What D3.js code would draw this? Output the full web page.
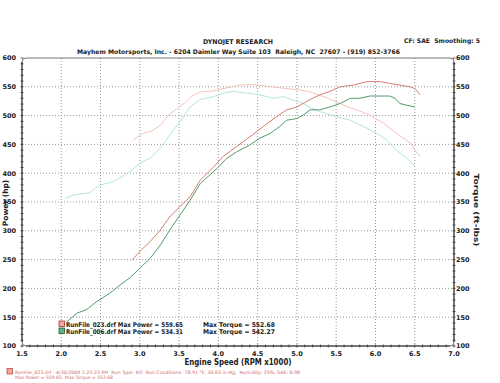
<!DOCTYPE html>
<html>
  <head>
    <meta charset="utf-8">
    <script src="https://d3js.org/d3.v7.min.js"></script>
    <style>
      body { margin: 0; background: #fff; }
      svg { display: block; font-family: "DejaVu Sans", Verdana, sans-serif; }
      text { white-space: pre; }
      .lbl { font-weight: bold; fill: #222; }
      .grid line { stroke: #999; stroke-width: 1; stroke-dasharray: 1,2; }
    </style>
  </head>
  <body>
    <div id="chart"></div>
    <script>
      // run 023 (red) and run 006 (green), rpm x1000
      var rpm023 = [2.9,3.02,3.13,3.26,3.38,3.51,3.64,3.77,3.94,4.06,4.23,4.4,4.57,4.74,4.87,5.0,5.17,5.29,5.42,5.55,5.72,5.89,6.06,6.18,6.31,6.44,6.5,6.57]
      var power023 = [249,267,281,301,324,342,359,388,411,429,446,463,481,498,510,515,528,536,542,550,553,559,559,556,553,550,547,536]
      var rpm023t = [2.92,3.04,3.15,3.26,3.36,3.47,3.58,3.66,3.77,3.94,4.1,4.27,4.45,4.62,4.8,5.0,5.15,5.4,5.65,5.9,6.1,6.27,6.45,6.52,6.57]
      var torque023 = [458,469,473,483,500,512,523,534,541,543,548,553,554,551,548,545,542,530,515,503,487,469,452,437,429]

      var rpm006 = [2.07,2.2,2.32,2.45,2.62,2.75,2.87,3.0,3.13,3.26,3.38,3.51,3.64,3.77,3.98,4.11,4.23,4.4,4.53,4.66,4.78,4.87,5.0,5.08,5.17,5.29,5.42,5.55,5.68,5.8,5.93,6.06,6.18,6.25,6.31,6.4,6.5]
      var power006 = [142,157,163,177,192,206,218,235,252,275,301,327,353,382,408,426,437,449,461,469,481,492,495,501,510,510,515,521,530,530,534,534,534,530,521,518,515]
      var rpm006t = [2.05,2.15,2.24,2.37,2.43,2.51,2.66,2.81,2.9,3.0,3.13,3.26,3.38,3.51,3.64,3.77,3.94,4.06,4.19,4.36,4.53,4.7,4.83,4.95,5.08,5.17,5.29,5.51,5.68,5.85,6.02,6.14,6.27,6.4,6.5]
      var torque006 = [356,362,364,366,374,380,385,397,406,417,426,443,466,489,515,528,533,539,542,539,536,530,533,527,521,514,507,498,492,481,469,458,440,426,413]

      var xTicks = [1.5,2.0,2.5,3.0,3.5,4.0,4.5,5.0,5.5,6.0,6.5,7.0]
      var yTicks = [100,150,200,250,300,350,400,450,500,550,600]
      var legendRows = ["RunFile_023.drf Max Power = 559.65", "RunFile_006.drf Max Power = 534.31"]
      var legendTorque = ["Max Torque = 552.68", "Max Torque = 542.27"]

      var W = 500, H = 383
      var L = 22, R = 454, T = 58, B = 346

      var svg = d3.select("#chart").append("svg").attr("width", W).attr("height", H)

      var x = d3.scaleLinear().domain([1.5,7.0]).range([L,R])
      var y = d3.scaleLinear().domain([100,600]).range([B,T])

      // grid
      var grid = svg.append("g").attr("class","grid")
      grid.selectAll(".gx").data(xTicks.slice(1,-1)).enter().append("line")
        .attr("x1", d => x(d)).attr("x2", d => x(d)).attr("y1", T).attr("y2", B)
      grid.selectAll(".gy").data(yTicks.slice(1,-1)).enter().append("line")
        .attr("x1", L).attr("x2", R).attr("y1", d => y(d)).attr("y2", d => y(d))

      // frame
      svg.append("rect").attr("x", L).attr("y", T).attr("width", R-L).attr("height", B-T)
        .attr("rx", 4).attr("fill","none").attr("stroke","#666").attr("stroke-width",0.9)
      svg.append("line").attr("x1",L).attr("x2",L).attr("y1",T+4).attr("y2",B-4).attr("stroke","#333")
      svg.append("line").attr("x1",R).attr("x2",R).attr("y1",T+4).attr("y2",B-4).attr("stroke","#333")
      svg.append("line").attr("x1",L+4).attr("x2",R-4).attr("y1",B).attr("y2",B).attr("stroke","#333")

      // minor ticks
      var yMinor = d3.range(100, 601, 10)
      var xMinor = d3.range(15, 71, 1).map(d => d/10)
      var tk = svg.append("g").attr("stroke","#333").attr("stroke-width",0.8)
      tk.selectAll(".tl").data(yMinor).enter().append("line")
        .attr("x1", L-1.5).attr("x2", L+1.5).attr("y1", d => y(d)).attr("y2", d => y(d))
      tk.selectAll(".tr").data(yMinor).enter().append("line")
        .attr("x1", R-1.5).attr("x2", R+1.5).attr("y1", d => y(d)).attr("y2", d => y(d))
      tk.selectAll(".tb").data(xMinor).enter().append("line")
        .attr("x1", d => x(d)).attr("x2", d => x(d)).attr("y1", B-1.5).attr("y2", B+1.5)

      // tick labels
      svg.selectAll(".yl").data(yTicks).enter().append("text").attr("class","lbl")
        .attr("x", 16).attr("y", d => y(d)+2.3).attr("text-anchor","end")
        .attr("font-size", 6.5).text(d => d)
      svg.selectAll(".yr").data(yTicks).enter().append("text").attr("class","lbl")
        .attr("x", 456).attr("y", d => y(d)+2.3)
        .attr("font-size", 6.5).text(d => d)
      svg.selectAll(".xl").data(xTicks).enter().append("text").attr("class","lbl")
        .attr("x", d => x(d)).attr("y", 355.5).attr("text-anchor","middle")
        .attr("font-size", 6.5).text(d => d.toFixed(1))

      // axis titles
      svg.append("text").attr("class","lbl").attr("x",238).attr("y",364.5).attr("text-anchor","middle")
        .attr("font-size",8).attr("textLength",107).attr("lengthAdjust","spacingAndGlyphs")
        .text("Engine Speed (RPM x1000)")
      svg.append("text").attr("class","lbl").attr("transform","translate(7.5,203) rotate(-90)")
        .attr("text-anchor","middle").attr("font-size",7.5).text("Power (hp)")
      svg.append("text").attr("class","lbl").attr("transform","translate(473.5,210) rotate(90)")
        .attr("text-anchor","middle").attr("font-size",7).attr("textLength",73).attr("lengthAdjust","spacingAndGlyphs")
        .text("Torque (ft-lbs)")

      // header
      svg.append("text").attr("class","lbl").attr("x",238).attr("y",44).attr("text-anchor","middle")
        .attr("font-size",6.5).attr("textLength",70).attr("lengthAdjust","spacingAndGlyphs").text("DYNOJET RESEARCH")
      svg.append("text").attr("class","lbl").attr("x",238.5).attr("y",54).attr("text-anchor","middle")
        .attr("font-size",6.3).attr("textLength",323).attr("lengthAdjust","spacingAndGlyphs")
        .text("Mayhem Motorsports, Inc. - 6204 Daimler Way Suite 103  Raleigh, NC  27607 - (919) 852-3766")
      svg.append("text").attr("class","lbl").attr("x",404).attr("y",42.5)
        .attr("font-size",6.3).attr("textLength",76).attr("lengthAdjust","spacingAndGlyphs")
        .text("CF: SAE  Smoothing: 5")

      // curves
      var line = d3.line().x(d => x(d[0])).y(d => y(d[1]))
      var series = [
        {r: rpm023t, v: torque023, c: "#f2bcb6"},
        {r: rpm006t, v: torque006, c: "#ace2d2"},
        {r: rpm023, v: power023, c: "#d0705e"},
        {r: rpm006, v: power006, c: "#3f8e5a"}
      ]
      svg.selectAll(".curve").data(series).enter().append("path")
        .attr("d", s => line(d3.zip(s.r, s.v)))
        .attr("fill","none").attr("stroke", s => s.c).attr("stroke-width",0.9)

      // legend
      var lg = svg.append("g")
      var sw = [{f:"#f4a6a0", s:"#a83a34"}, {f:"#5cb488", s:"#1f5f3c"}]
      lg.selectAll("rect").data(sw).enter().append("rect")
        .attr("x",59).attr("y",(d,i) => 321 + i*7).attr("width",5.5).attr("height",5.5)
        .attr("fill", d => d.f).attr("stroke", d => d.s).attr("stroke-width",0.8)
      lg.selectAll(".lt").data(legendRows).enter().append("text").attr("class","lbl")
        .attr("x",66).attr("y",(d,i) => 326.5 + i*7).attr("font-size",6.5)
        .attr("textLength",117).attr("lengthAdjust","spacingAndGlyphs").text(d => d)
      lg.selectAll(".lq").data(legendTorque).enter().append("text").attr("class","lbl")
        .attr("x",203).attr("y",(d,i) => 326.5 + i*7).attr("font-size",6.5)
        .attr("textLength",72).attr("lengthAdjust","spacingAndGlyphs").text(d => d)

      // footer
      svg.append("rect").attr("x",7).attr("y",368.5).attr("width",5.5).attr("height",5.5)
        .attr("fill","#f4a6a0").attr("stroke","#c05050").attr("stroke-width",0.8)
      svg.append("text").attr("x",15).attr("y",373.5).attr("font-size",4.6).attr("fill","#d06a66")
        .attr("textLength",285).attr("lengthAdjust","spacingAndGlyphs")
        .text("RunFile_023.drf - 4/30/2009 1:23:23 PM  Run Type: RO  Run Conditions: 78.91 °F, 30.03 in-Hg,  Humidity: 25%, SAE: 0.98")
      svg.append("text").attr("x",15).attr("y",379).attr("font-size",4.6).attr("fill","#d06a66")
        .attr("textLength",98).attr("lengthAdjust","spacingAndGlyphs")
        .text("Max Power = 559.65  Max Torque = 552.68")
    </script>
  </body>
</html>
